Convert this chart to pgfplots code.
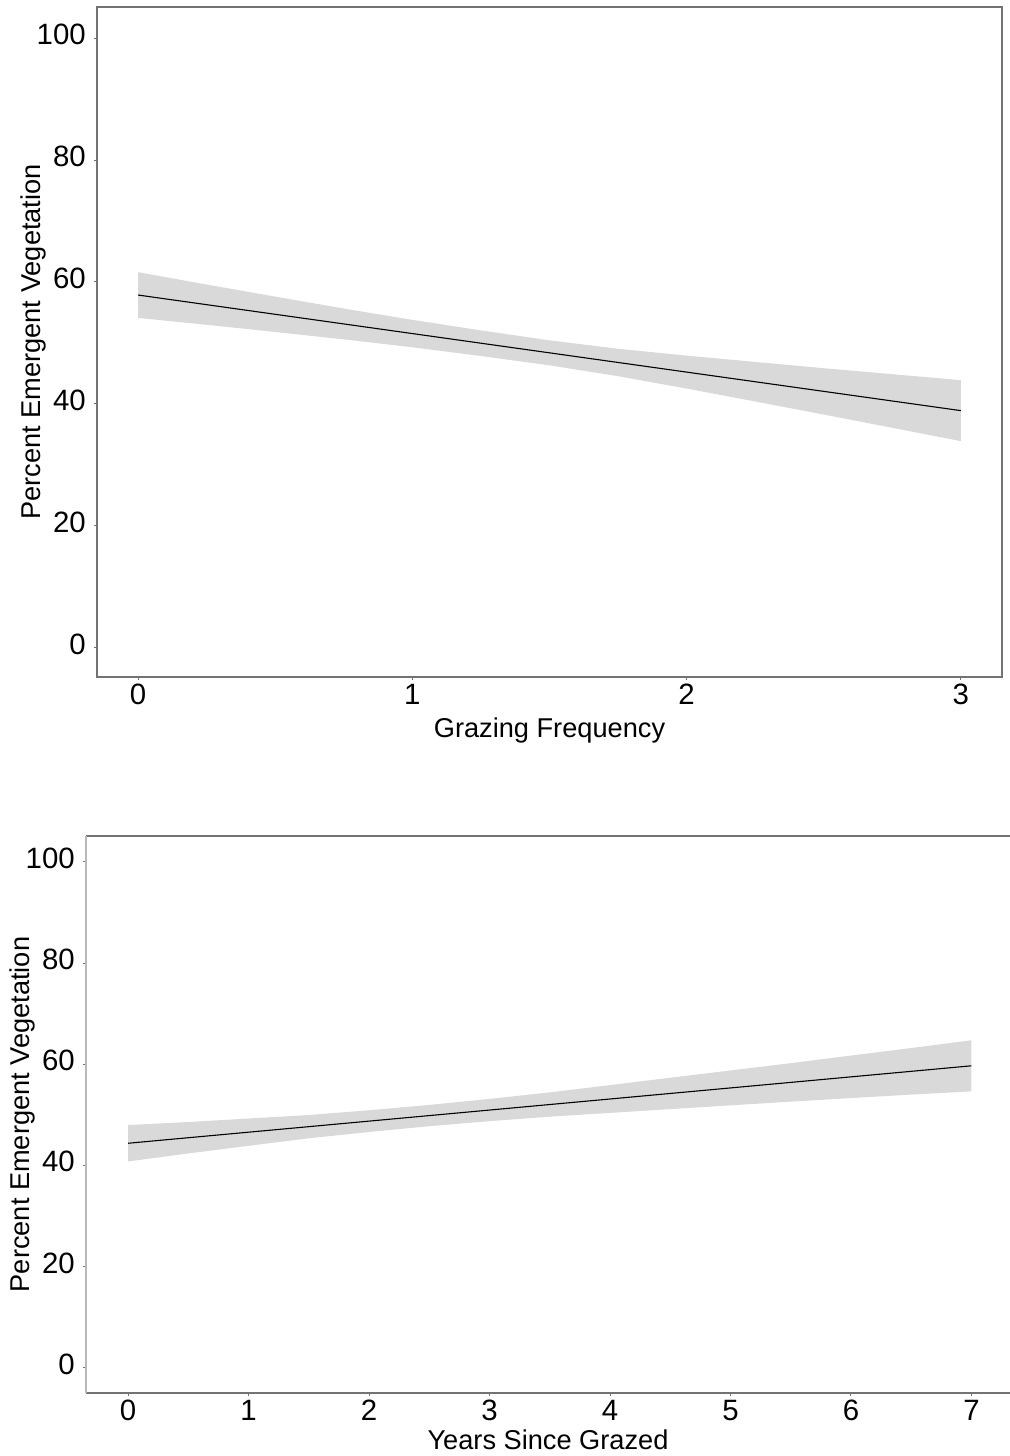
\documentclass[border=0pt]{standalone}
\usepackage{pgfplots}
\pgfplotsset{compat=1.18}
\usepackage{fontspec}
\setmainfont{Liberation Sans}
\definecolor{band}{HTML}{D9D9D9}
\definecolor{axgray}{HTML}{737373}
\begin{document}
\begin{tikzpicture}
\path[use as bounding box] (0,0) rectangle (505pt,728pt);
\pgfplotsset{
  common/.style={
    scale only axis,
    /pgf/number format/assume math mode=true,
    typeset ticklabels with strut,
    tick label style={font=\fontsize{14.7}{16}\selectfont, black},
    label style={font=\fontsize{13.6}{15}\selectfont, black},
    tick align=outside,
    xtick pos=bottom, ytick pos=left,
    major tick length=1.6pt,
    tick style={axgray, line width=0.5pt},
    axis line style={axgray, line width=0.6pt},
    ytick={0,20,40,60,80,100},
    ymin=-4.8, ymax=105.1,
    ylabel={Percent Emergent Vegetation},
    ylabel style={at={(rel axis cs:0,0.5)}, anchor=center, yshift=32pt},
    yticklabel style={xshift=-0.5pt},
    xticklabel style={yshift=2.5pt},
  }
}
% Top panel
\begin{axis}[common,
  at={(48.5pt,389.5pt)}, anchor=south west,
  width=452.5pt, height=335pt,
  xmin=-0.15, xmax=3.15,
  xtick={0,1,2,3},
  xlabel={Grazing Frequency},
  xlabel style={at={(rel axis cs:0.5,0)}, anchor=center, yshift=-26.5pt},
]
\addplot[fill=band, draw=none] coordinates {
  (0,61.60) (0.25,59.57) (0.5,57.59) (0.77,55.48) (1,53.78) (1.25,52.05)
  (1.5,50.42) (1.75,49.04) (2,47.91) (2.23,46.96) (2.5,45.85) (2.75,44.87) (3,43.89)
  (3,33.89) (2.75,36.07) (2.5,38.25) (2.23,40.56) (2,42.51) (1.75,44.54)
  (1.5,46.32) (1.25,47.85) (1,49.28) (0.77,50.48) (0.5,51.79) (0.25,52.97) (0,54.10)
} -- cycle;
\addplot[black, line width=0.55pt] coordinates {(0,57.85) (3,38.89)};
\end{axis}
% Bottom panel
\begin{axis}[common,
  at={(43pt,31.5pt)}, anchor=south west,
  width=462pt, height=278.5pt,
  ymin=-4.94,
  xmin=-0.35, xmax=7.32,
  xtick={0,1,2,3,4,5,6,7},
  axis x line*=box, axis y line*=left,
  y axis line style={-, color=black!28, line width=0.9pt},
  x axis line style={-},
  xlabel={Years Since Grazed},
  xlabel style={at={(rel axis cs:0.5,0)}, anchor=center, yshift=-23.5pt},
]
\addplot[fill=band, draw=none] coordinates {
  (0,48.00) (0.5,48.59) (1,49.29) (1.5,49.98) (2,50.92) (2.5,51.97) (3,53.16)
  (3.5,54.45) (4,55.89) (4.5,57.34) (5,58.78) (5.5,60.22) (6,61.72) (6.5,63.21) (7,64.75)
  (7,54.65) (6.5,54.01) (6,53.32) (5.5,52.62) (5,51.88) (4.5,51.14) (4,50.39)
  (3.5,49.65) (3,48.76) (2.5,47.77) (2,46.62) (1.5,45.38) (1,43.89) (0.5,42.39) (0,40.80)
} -- cycle;
\addplot[black, line width=0.55pt] coordinates {(0,44.40) (7,59.70)};
\end{axis}
\end{tikzpicture}
\end{document}
